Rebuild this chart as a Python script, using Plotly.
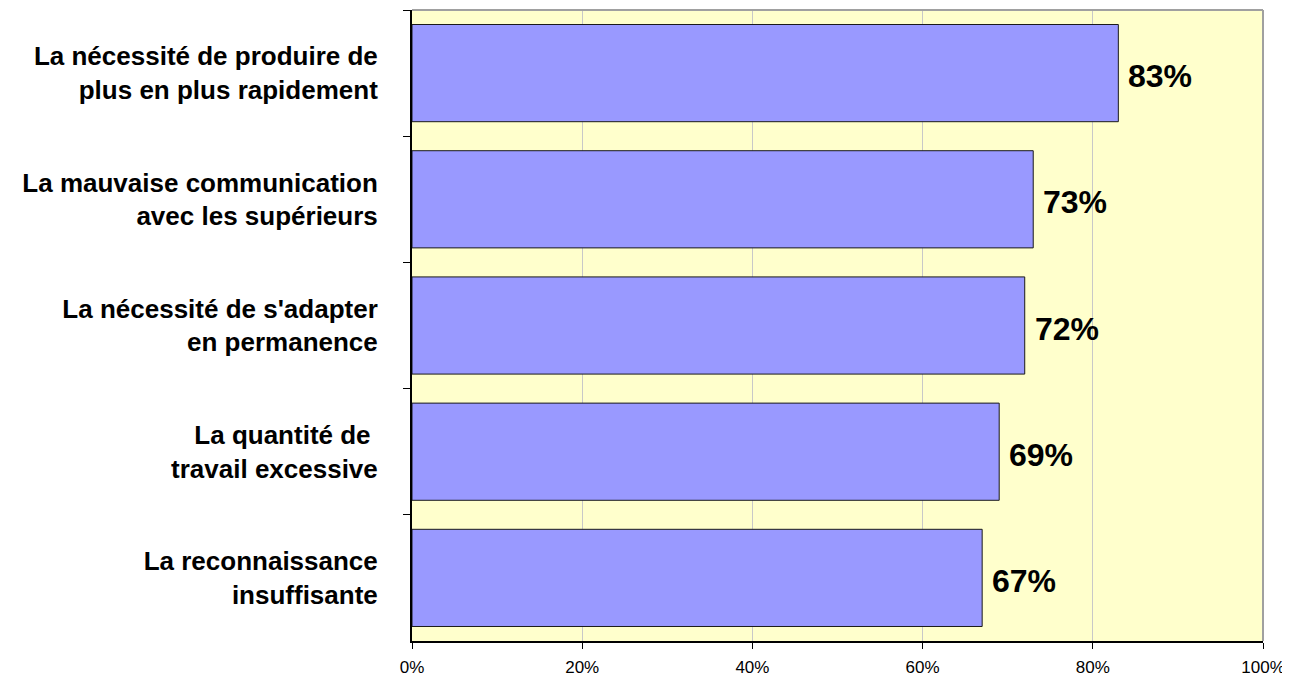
import plotly.graph_objects as go

categories = [
    "La nécessité de produire de<br>plus en plus rapidement",
    "La mauvaise communication<br>avec les supérieurs",
    "La nécessité de s'adapter<br>en permanence",
    "La quantité de <br>travail excessive",
    "La reconnaissance<br>insuffisante",
]
values = [83, 73, 72, 69, 67]
x_ticks = [0, 20, 40, 60, 80, 100]
x_tick_labels = ["0%", "20%", "40%", "60%", "80%", "100%"]

FONT = "Arial, Liberation Sans, sans-serif"

fig = go.Figure()
fig.add_trace(go.Bar(
    y=categories,
    x=values,
    orientation="h",
    marker=dict(color="#9999FF", line=dict(color="#1a1a1a", width=1)),
    hoverinfo="skip",
))

for c, v in zip(categories, values):
    fig.add_annotation(
        x=v, y=c, xref="x", yref="y",
        text=f"<b>{v}%</b>", showarrow=False,
        xanchor="left", xshift=8, yshift=-3,
        font=dict(family=FONT, size=32, color="black"),
    )

# top and right border in gray
fig.add_shape(type="line", xref="paper", yref="paper", x0=0, x1=1, y0=1, y1=1,
              line=dict(color="#A0A0A0", width=2))
fig.add_shape(type="line", xref="paper", yref="paper", x0=1, x1=1, y0=0, y1=1,
              line=dict(color="#A0A0A0", width=2))

# page body has an 8px margin, so the figure is sized/offset to compensate
fig.update_layout(
    width=1282, height=670,
    margin=dict(l=404, r=27, t=2, b=37, autoexpand=False),
    paper_bgcolor="white",
    plot_bgcolor="#FFFFCC",
    bargap=0.23,
    showlegend=False,
    font=dict(family=FONT, color="black"),
)
fig.update_xaxes(
    range=[0, 100],
    tickvals=x_ticks, ticktext=x_tick_labels,
    tickfont=dict(family=FONT, size=17, color="black"),
    showgrid=True, gridcolor="#C8C8C8", gridwidth=1,
    showline=True, linecolor="black", linewidth=2,
    ticks="outside", ticklen=6, tickcolor="black",
    ticklabelstandoff=4, automargin=False,
    zeroline=False, fixedrange=True,
)
fig.update_yaxes(
    autorange="reversed",
    tickfont=dict(family=FONT, size=26, color="black"),
    tickprefix="<b>", ticksuffix="</b>",
    showline=True, linecolor="black", linewidth=2,
    ticks="outside", ticklen=7, tickcolor="black", tickson="boundaries",
    ticklabelstandoff=27, automargin=False,
    showgrid=False, fixedrange=True,
)

fig.write_html("out.html")
